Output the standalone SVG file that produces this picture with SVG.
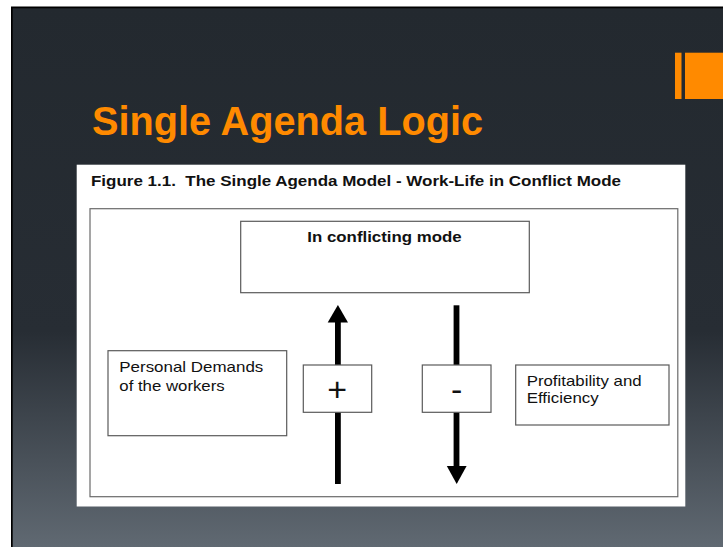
<svg xmlns="http://www.w3.org/2000/svg" width="723" height="547" viewBox="0 0 723 547">
  <defs>
    <linearGradient id="bg" x1="0" y1="0" x2="0" y2="1">
      <stop offset="0" stop-color="#23292F"/>
      <stop offset="0.6" stop-color="#272D34"/>
      <stop offset="1" stop-color="#606972"/>
    </linearGradient>
    <style>
      .box { fill: #FFFFFF; stroke: #5A5A5A; stroke-width: 1.2; }
      .txt { font-family: "Liberation Sans", Arial, sans-serif; font-size: 14.5px; fill: #111111; }
      .bold { font-weight: bold; }
      .sym { font-family: "Liberation Sans", Arial, sans-serif; font-size: 34px; fill: #111111; text-anchor: middle; }
      .arrow { fill: #000000; }
    </style>
  </defs>

  <!-- slide background -->
  <rect x="0" y="0" width="723" height="547" fill="#FFFFFF"/>
  <rect x="11" y="6.5" width="712" height="540.5" fill="#000000"/>
  <rect x="12.7" y="8.3" width="710.3" height="538.7" fill="url(#bg)"/>

  <!-- orange accent bars -->
  <rect x="675" y="52.7" width="6.5" height="46.3" fill="#FF8A00"/>
  <rect x="685" y="52.7" width="38" height="46.3" fill="#FF8A00"/>

  <!-- title -->
  <text x="92" y="135" font-family="'Liberation Sans', Arial, sans-serif" font-weight="bold" font-size="41" fill="#FF8A00" textLength="391" lengthAdjust="spacingAndGlyphs">Single Agenda Logic</text>

  <!-- figure panel -->
  <rect x="76.7" y="164.7" width="608.6" height="341.8" fill="#FFFFFF"/>
  <text class="txt bold" x="91" y="186.3" textLength="530" lengthAdjust="spacingAndGlyphs" xml:space="preserve">Figure 1.1.  The Single Agenda Model - Work-Life in Conflict Mode</text>
  <rect x="90" y="208.7" width="587.8" height="288" fill="#FFFFFF" stroke="#6A6A6A" stroke-width="1.2"/>

  <!-- connectors -->
  <g id="connectors">
    <g id="arrow-up">
      <rect class="arrow" x="335" y="321" width="5.8" height="163"/>
      <polygon class="arrow" points="337.9,305 327.7,322.5 348,322.5"/>
    </g>
    <g id="arrow-down">
      <rect class="arrow" x="453.6" y="305.3" width="5.8" height="162"/>
      <polygon class="arrow" points="446.8,466 466.6,466 456.7,484"/>
    </g>
  </g>

  <!-- nodes -->
  <g id="node-conflicting">
    <rect class="box" x="240.7" y="221.3" width="288.6" height="71.4"/>
    <text class="txt bold" x="307.3" y="242" textLength="154.4" lengthAdjust="spacingAndGlyphs">In conflicting mode</text>
  </g>

  <g id="node-personal">
    <rect class="box" x="108" y="350.7" width="178.7" height="85"/>
    <text class="txt" x="119.3" y="371.7" textLength="144" lengthAdjust="spacingAndGlyphs">Personal Demands</text>
    <text class="txt" x="119.3" y="390.7" textLength="105.4" lengthAdjust="spacingAndGlyphs">of the workers</text>
  </g>

  <g id="node-plus">
    <rect class="box" x="303.3" y="365" width="68.4" height="47.3"/>
    <text class="sym" x="337.2" y="400.6" font-weight="300">+</text>
  </g>

  <g id="node-minus">
    <rect class="box" x="422.3" y="365" width="68.7" height="47.3"/>
    <text class="sym" x="456.7" y="400.5">-</text>
  </g>

  <g id="node-profit">
    <rect class="box" x="515.7" y="365" width="153.3" height="60"/>
    <text class="txt" x="526.7" y="385.7" textLength="115" lengthAdjust="spacingAndGlyphs">Profitability and</text>
    <text class="txt" x="526.7" y="402.7" textLength="72" lengthAdjust="spacingAndGlyphs">Efficiency</text>
  </g>
</svg>
